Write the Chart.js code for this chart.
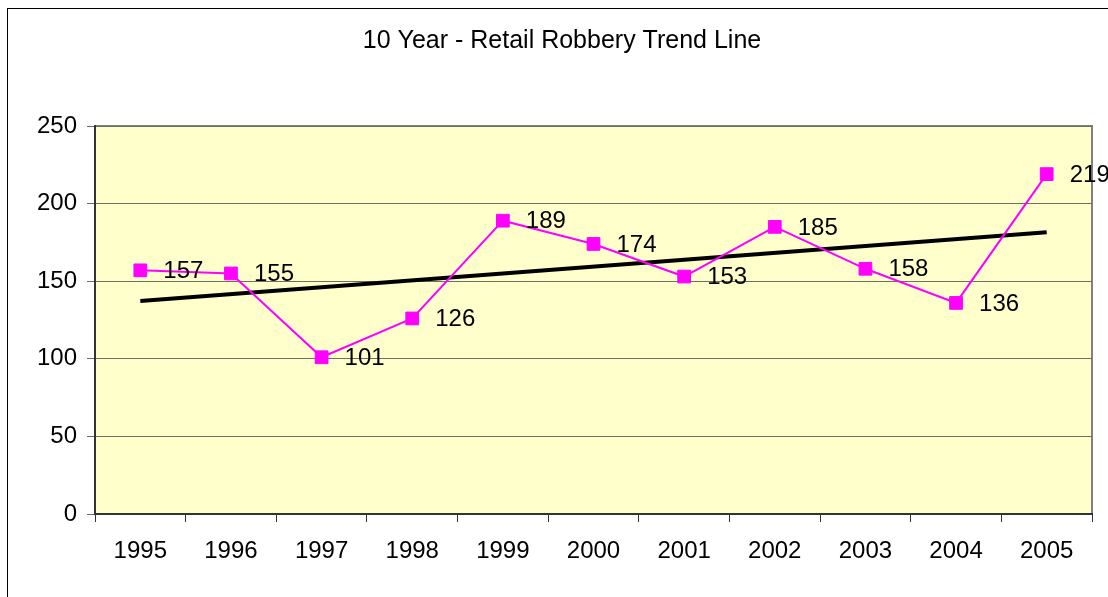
<!DOCTYPE html>
<html>
<head>
    <script src="https://cdn.jsdelivr.net/npm/chart.js"></script>
    <style>
        html, body { margin: 0; padding: 0; background: #ffffff; }
        #wrap { position: relative; width: 1108px; height: 597px; }
    </style>
</head>
<body>
<div id="wrap">
    <canvas id="trend-chart" width="1108" height="597"></canvas>
</div>

<script>
    // 데이터
    var years = ['1995', '1996', '1997', '1998', '1999', '2000', '2001', '2002', '2003', '2004', '2005'];
    var robberies = [157, 155, 101, 126, 189, 174, 153, 185, 158, 136, 219];
    // 추세선 (양 끝값만, 그림에서 읽음)
    var trendLine = [137.2, null, null, null, null, null, null, null, null, null, 181.5];
    var yTicks = [0, 50, 100, 150, 200, 250];
    var chartTitle = '10 Year - Retail Robbery Trend Line';

    var FONT = "'Liberation Sans', Arial, sans-serif";

    // 배경, 테두리, 제목
    var frame = {
        id: 'frame',
        beforeDraw: function(chart) {
            var c = chart.ctx, a = chart.chartArea;
            c.save();
            c.strokeStyle = '#000000';
            c.lineWidth = 1;
            c.strokeRect(7.5, 8.5, chart.width + 10, chart.height + 10);
            c.fillStyle = '#FFFFCC';
            c.fillRect(a.left, a.top, a.right - a.left, a.bottom - a.top);
            c.strokeStyle = '#808080';
            c.lineWidth = 2;
            c.beginPath();
            c.moveTo(a.left, a.top);
            c.lineTo(a.right, a.top);
            c.lineTo(a.right, a.bottom);
            c.stroke();
            c.font = '25px ' + FONT;
            c.fillStyle = '#000000';
            c.textAlign = 'center';
            c.textBaseline = 'middle';
            c.fillText(chartTitle, 562, 41);
            c.restore();
        }
    };

    // 값 라벨
    var valueLabels = {
        id: 'valueLabels',
        afterDatasetsDraw: function(chart) {
            var c = chart.ctx;
            var meta = chart.getDatasetMeta(0);
            c.save();
            c.font = '24px ' + FONT;
            c.fillStyle = '#000000';
            c.textAlign = 'left';
            c.textBaseline = 'middle';
            meta.data.forEach(function(pt, i) {
                c.fillText(String(robberies[i]), pt.x + 23, pt.y + 1);
            });
            c.restore();
        }
    };

    var ctx = document.getElementById('trend-chart').getContext('2d');
    var chart = new Chart(ctx, {
        type: 'line',
        data: {
            labels: years,
            datasets: [{
                data: robberies,
                borderColor: '#FF00FF',
                backgroundColor: '#FF00FF',
                borderWidth: 2,
                pointStyle: 'rect',
                pointRadius: 9,
                pointBorderWidth: 1,
                tension: 0,
                clip: false,
                order: 1
            }, {
                data: trendLine,
                borderColor: '#000000',
                borderWidth: 4,
                pointRadius: 0,
                spanGaps: true,
                tension: 0,
                order: 2
            }]
        },
        options: {
            responsive: false,
            animation: false,
            layout: { padding: { left: 0, right: 16, top: 126, bottom: 0 } },
            plugins: {
                legend: { display: false },
                tooltip: { enabled: false },
                title: { display: false }
            },
            scales: {
                x: {
                    offset: true,
                    grid: { drawOnChartArea: false, drawTicks: true, tickLength: 8, color: '#333333', offset: true },
                    border: { display: true, color: '#333333', width: 2 },
                    ticks: { color: '#000000', font: { family: FONT, size: 24 }, padding: 15, maxRotation: 0, autoSkip: false },
                    afterFit: function(s) { s.height = 83; }
                },
                y: {
                    min: 0,
                    max: 250,
                    afterBuildTicks: function(s) { s.ticks = yTicks.map(function(v) { return { value: v }; }); },
                    grid: { color: '#6f6f60', lineWidth: 1, tickLength: 8, drawTicks: true },
                    border: { display: true, color: '#333333', width: 2 },
                    ticks: { color: '#000000', font: { family: FONT, size: 24 }, padding: 10 },
                    afterFit: function(s) { s.width = 95; }
                }
            }
        },
        plugins: [frame, valueLabels]
    });
</script>

</body>
</html>
